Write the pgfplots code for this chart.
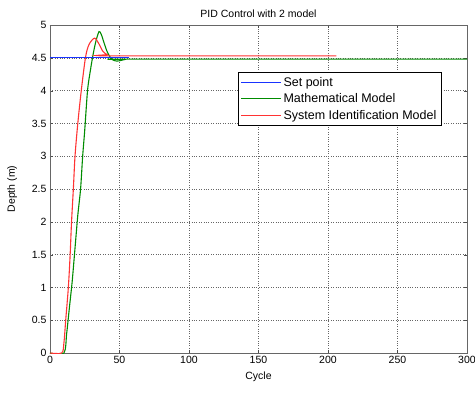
\documentclass[border=0pt]{standalone}
\usepackage{fontspec}
\setmainfont{Liberation Sans}
\usepackage{pgfplots}
\pgfplotsset{compat=1.18}
\definecolor{spblue}{rgb}{0.1,0.2,1}
\definecolor{mmgreen}{rgb}{0,0.55,0}
\definecolor{sired}{rgb}{1,0.2,0.2}
\begin{document}
\begin{tikzpicture}
\useasboundingbox (-50pt,-39pt) rectangle (425pt,353pt);
\fill[white] (-50pt,-39pt) rectangle (425pt,353pt);
\begin{axis}[
  at={(0,0)}, anchor=south west,
  scale only axis, width=417pt, height=328pt,
  xmin=0, xmax=300, ymin=0, ymax=5,
  xtick={0,50,...,300}, ytick={0,0.5,...,5},
  yticklabels={0,0.5,1,1.5,2,2.5,3,3.5,4,4.5,5},
  xticklabels={0,50,100,150,200,250,300},
  tick align=inside, major tick length=3pt,
  tick style={black!70},
  axis line style={black!60, line width=0.8pt},
  grid=major, grid style={dotted, black!60},
  font=\fontsize{10.5}{12}\selectfont,
  tick label style={font=\fontsize{10.5}{12}\selectfont},
  title={PID Control with 2 model},
  title style={font=\fontsize{10.5}{12}\selectfont, yshift=-2pt},
  xlabel={Cycle}, ylabel={Depth (m)},
  xlabel style={yshift=-1pt},
  ylabel style={yshift=8pt},
  legend style={at={(axis cs:135,4.28)}, anchor=north west,
    font=\fontsize{12.5}{13.5}\selectfont, draw=black, line width=0.6pt,
    row sep=2pt, inner sep=2.5pt},
  legend image code/.code={\draw[#1] (0pt,0pt) -- (40pt,0pt);},
  legend cell align=left,
]
\addplot[spblue, line width=1.1pt] coordinates {(0,4.5) (57,4.5)};
\addlegendentry{Set point}
\addplot[mmgreen, line width=1.1pt, smooth] coordinates {
(0,0) (10,0) (12,0.3) (14,0.7) (16,1.1) (18,1.6) (20,2.1) (22,2.5) (23.5,3.0)
(25,3.4) (27,4.0) (29,4.3) (31,4.55) (33,4.75) (35.3,4.9) (37,4.85) (39,4.72)
(41,4.6) (43,4.52) (45,4.47) (48,4.45) (51,4.46) (54,4.475) (57,4.48) (300,4.48)};
\addlegendentry{Mathematical Model}
\addplot[sired, line width=1.1pt, smooth] coordinates {
(0,0) (8.4,0) (10,0.15) (11.3,0.5) (13.2,1) (14.5,1.5) (15.5,2) (16.8,2.5)
(18,3) (20,3.5) (22.5,4) (25.5,4.5) (28,4.7) (32,4.8) (35,4.72) (38,4.6)
(41,4.55) (44,4.53) (206,4.53)};
\addlegendentry{System Identification Model}
\addplot[spblue, line width=1.1pt, forget plot] coordinates {(0,4.5) (57,4.5)};
\end{axis}
\end{tikzpicture}
\end{document}
